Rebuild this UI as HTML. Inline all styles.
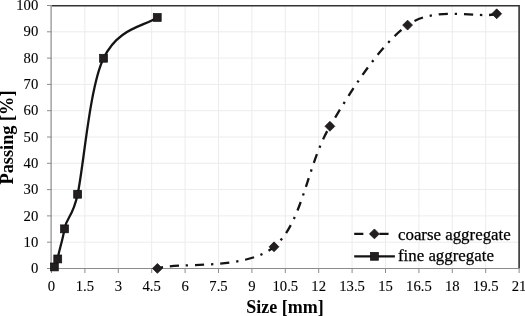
<!DOCTYPE html>
<html><head><meta charset="utf-8"><style>
html,body{margin:0;padding:0;background:#fff;}
body{width:525px;height:316px;overflow:hidden;}
svg{display:block;}
.mk{fill:#231f20;stroke:#101010;stroke-width:0.7px;}
.tl{font-family:"Liberation Serif",serif;font-size:14.7px;fill:#000;stroke:#000;stroke-width:0.1px;}
.ti{font-family:"Liberation Serif",serif;font-size:17.8px;font-weight:bold;fill:#000;}
.lg{font-family:"Liberation Serif",serif;font-size:16.85px;fill:#000;stroke:#000;stroke-width:0.25px;}
</style></head><body>
<svg width="525" height="316" viewBox="0 0 525 316">
<line x1="84.90" y1="5.50" x2="84.90" y2="268.50" stroke="#ececec" stroke-width="1"/>
<line x1="118.30" y1="5.50" x2="118.30" y2="268.50" stroke="#ececec" stroke-width="1"/>
<line x1="151.70" y1="5.50" x2="151.70" y2="268.50" stroke="#ececec" stroke-width="1"/>
<line x1="185.10" y1="5.50" x2="185.10" y2="268.50" stroke="#ececec" stroke-width="1"/>
<line x1="218.50" y1="5.50" x2="218.50" y2="268.50" stroke="#ececec" stroke-width="1"/>
<line x1="251.90" y1="5.50" x2="251.90" y2="268.50" stroke="#ececec" stroke-width="1"/>
<line x1="285.30" y1="5.50" x2="285.30" y2="268.50" stroke="#ececec" stroke-width="1"/>
<line x1="318.70" y1="5.50" x2="318.70" y2="268.50" stroke="#ececec" stroke-width="1"/>
<line x1="352.10" y1="5.50" x2="352.10" y2="268.50" stroke="#ececec" stroke-width="1"/>
<line x1="385.50" y1="5.50" x2="385.50" y2="268.50" stroke="#ececec" stroke-width="1"/>
<line x1="418.91" y1="5.50" x2="418.91" y2="268.50" stroke="#ececec" stroke-width="1"/>
<line x1="452.31" y1="5.50" x2="452.31" y2="268.50" stroke="#ececec" stroke-width="1"/>
<line x1="485.71" y1="5.50" x2="485.71" y2="268.50" stroke="#ececec" stroke-width="1"/>
<line x1="51.50" y1="242.20" x2="519.11" y2="242.20" stroke="#ececec" stroke-width="1"/>
<line x1="51.50" y1="215.90" x2="519.11" y2="215.90" stroke="#ececec" stroke-width="1"/>
<line x1="51.50" y1="189.60" x2="519.11" y2="189.60" stroke="#ececec" stroke-width="1"/>
<line x1="51.50" y1="163.30" x2="519.11" y2="163.30" stroke="#ececec" stroke-width="1"/>
<line x1="51.50" y1="137.00" x2="519.11" y2="137.00" stroke="#ececec" stroke-width="1"/>
<line x1="51.50" y1="110.70" x2="519.11" y2="110.70" stroke="#ececec" stroke-width="1"/>
<line x1="51.50" y1="84.40" x2="519.11" y2="84.40" stroke="#ececec" stroke-width="1"/>
<line x1="51.50" y1="58.10" x2="519.11" y2="58.10" stroke="#ececec" stroke-width="1"/>
<line x1="51.50" y1="31.80" x2="519.11" y2="31.80" stroke="#ececec" stroke-width="1"/>
<polyline points="51.50,5.80 519.11,5.80 519.11,268.50" fill="none" stroke="#333333" stroke-width="1.6"/>
<line x1="51.10" y1="5.00" x2="51.10" y2="269.00" stroke="#8c8c8c" stroke-width="1.2"/>
<line x1="51.00" y1="268.50" x2="519.61" y2="268.50" stroke="#8c8c8c" stroke-width="1"/>
<line x1="47.00" y1="268.50" x2="51.50" y2="268.50" stroke="#8c8c8c" stroke-width="1"/>
<line x1="47.00" y1="242.20" x2="51.50" y2="242.20" stroke="#8c8c8c" stroke-width="1"/>
<line x1="47.00" y1="215.90" x2="51.50" y2="215.90" stroke="#8c8c8c" stroke-width="1"/>
<line x1="47.00" y1="189.60" x2="51.50" y2="189.60" stroke="#8c8c8c" stroke-width="1"/>
<line x1="47.00" y1="163.30" x2="51.50" y2="163.30" stroke="#8c8c8c" stroke-width="1"/>
<line x1="47.00" y1="137.00" x2="51.50" y2="137.00" stroke="#8c8c8c" stroke-width="1"/>
<line x1="47.00" y1="110.70" x2="51.50" y2="110.70" stroke="#8c8c8c" stroke-width="1"/>
<line x1="47.00" y1="84.40" x2="51.50" y2="84.40" stroke="#8c8c8c" stroke-width="1"/>
<line x1="47.00" y1="58.10" x2="51.50" y2="58.10" stroke="#8c8c8c" stroke-width="1"/>
<line x1="47.00" y1="31.80" x2="51.50" y2="31.80" stroke="#8c8c8c" stroke-width="1"/>
<line x1="47.00" y1="5.50" x2="51.50" y2="5.50" stroke="#8c8c8c" stroke-width="1"/>
<line x1="51.50" y1="268.50" x2="51.50" y2="273.00" stroke="#8c8c8c" stroke-width="1"/>
<line x1="84.90" y1="268.50" x2="84.90" y2="273.00" stroke="#8c8c8c" stroke-width="1"/>
<line x1="118.30" y1="268.50" x2="118.30" y2="273.00" stroke="#8c8c8c" stroke-width="1"/>
<line x1="151.70" y1="268.50" x2="151.70" y2="273.00" stroke="#8c8c8c" stroke-width="1"/>
<line x1="185.10" y1="268.50" x2="185.10" y2="273.00" stroke="#8c8c8c" stroke-width="1"/>
<line x1="218.50" y1="268.50" x2="218.50" y2="273.00" stroke="#8c8c8c" stroke-width="1"/>
<line x1="251.90" y1="268.50" x2="251.90" y2="273.00" stroke="#8c8c8c" stroke-width="1"/>
<line x1="285.30" y1="268.50" x2="285.30" y2="273.00" stroke="#8c8c8c" stroke-width="1"/>
<line x1="318.70" y1="268.50" x2="318.70" y2="273.00" stroke="#8c8c8c" stroke-width="1"/>
<line x1="352.10" y1="268.50" x2="352.10" y2="273.00" stroke="#8c8c8c" stroke-width="1"/>
<line x1="385.50" y1="268.50" x2="385.50" y2="273.00" stroke="#8c8c8c" stroke-width="1"/>
<line x1="418.91" y1="268.50" x2="418.91" y2="273.00" stroke="#8c8c8c" stroke-width="1"/>
<line x1="452.31" y1="268.50" x2="452.31" y2="273.00" stroke="#8c8c8c" stroke-width="1"/>
<line x1="485.71" y1="268.50" x2="485.71" y2="273.00" stroke="#8c8c8c" stroke-width="1"/>
<line x1="519.11" y1="268.50" x2="519.11" y2="273.00" stroke="#8c8c8c" stroke-width="1"/>
<text x="38.3" y="273.10" text-anchor="end" class="tl">0</text>
<text x="38.3" y="246.80" text-anchor="end" class="tl">10</text>
<text x="38.3" y="220.50" text-anchor="end" class="tl">20</text>
<text x="38.3" y="194.20" text-anchor="end" class="tl">30</text>
<text x="38.3" y="167.90" text-anchor="end" class="tl">40</text>
<text x="38.3" y="141.60" text-anchor="end" class="tl">50</text>
<text x="38.3" y="115.30" text-anchor="end" class="tl">60</text>
<text x="38.3" y="89.00" text-anchor="end" class="tl">70</text>
<text x="38.3" y="62.70" text-anchor="end" class="tl">80</text>
<text x="38.3" y="36.40" text-anchor="end" class="tl">90</text>
<text x="38.3" y="10.10" text-anchor="end" class="tl">100</text>
<text x="51.50" y="291.4" text-anchor="middle" class="tl">0</text>
<text x="84.90" y="291.4" text-anchor="middle" class="tl">1.5</text>
<text x="118.30" y="291.4" text-anchor="middle" class="tl">3</text>
<text x="151.70" y="291.4" text-anchor="middle" class="tl">4.5</text>
<text x="185.10" y="291.4" text-anchor="middle" class="tl">6</text>
<text x="218.50" y="291.4" text-anchor="middle" class="tl">7.5</text>
<text x="251.90" y="291.4" text-anchor="middle" class="tl">9</text>
<text x="285.30" y="291.4" text-anchor="middle" class="tl">10.5</text>
<text x="318.70" y="291.4" text-anchor="middle" class="tl">12</text>
<text x="352.10" y="291.4" text-anchor="middle" class="tl">13.5</text>
<text x="385.50" y="291.4" text-anchor="middle" class="tl">15</text>
<text x="418.91" y="291.4" text-anchor="middle" class="tl">16.5</text>
<text x="452.31" y="291.4" text-anchor="middle" class="tl">18</text>
<text x="485.71" y="291.4" text-anchor="middle" class="tl">19.5</text>
<text x="519.11" y="291.4" text-anchor="middle" class="tl">21</text>
<text x="284.9" y="312.6" text-anchor="middle" class="ti" style="font-size:18px">Size [mm]</text>
<text transform="translate(12.7,137.5) rotate(-90)" x="0" y="0" text-anchor="middle" class="ti" style="font-size:18.3px">Passing [%]</text>
<path d="M157.40,268.40 C177.42,261.90 244.85,270.98 274.00,246.80 C302.99,222.76 306.72,165.38 329.90,126.30 C352.16,88.77 380.00,44.96 407.60,25.10 C435.87,4.75 480.04,19.13 496.70,13.80" fill="none" stroke="#141414" stroke-width="2.29" stroke-dasharray="9.16,6.87,2.29,6.87" stroke-dashoffset="12.50" stroke-linejoin="round"/>
<path d="M54.35,266.95 C54.92,265.62 57.16,265.49 57.75,258.95 C58.33,252.51 62.81,240.15 64.50,228.85 C66.19,217.55 72.62,217.97 77.65,194.25 C83.81,165.16 89.56,87.22 103.55,58.25 C118.41,27.50 143.25,26.93 157.25,17.45" fill="none" stroke="#141414" stroke-width="2.29" stroke-linejoin="round"/>
<path d="M157.40,263.45 L162.35,268.40 L157.40,273.35 L152.45,268.40 Z" class="mk"/>
<path d="M274.00,241.85 L278.95,246.80 L274.00,251.75 L269.05,246.80 Z" class="mk"/>
<path d="M329.90,121.35 L334.85,126.30 L329.90,131.25 L324.95,126.30 Z" class="mk"/>
<path d="M407.60,20.15 L412.55,25.10 L407.60,30.05 L402.65,25.10 Z" class="mk"/>
<path d="M496.70,8.85 L501.65,13.80 L496.70,18.75 L491.75,13.80 Z" class="mk"/>
<rect x="50.40" y="263.00" width="7.90" height="7.90" class="mk"/>
<rect x="53.80" y="255.00" width="7.90" height="7.90" class="mk"/>
<rect x="60.55" y="224.90" width="7.90" height="7.90" class="mk"/>
<rect x="73.70" y="190.30" width="7.90" height="7.90" class="mk"/>
<rect x="99.60" y="54.30" width="7.90" height="7.90" class="mk"/>
<rect x="153.30" y="13.50" width="7.90" height="7.90" class="mk"/>
<line x1="354.20" y1="233.90" x2="394.90" y2="233.90" stroke="#141414" stroke-width="2.29" stroke-dasharray="9.16,6.87,2.29,6.87"/>
<path d="M374.40,228.95 L379.35,233.90 L374.40,238.85 L369.45,233.90 Z" class="mk"/>
<line x1="354.20" y1="256.30" x2="394.90" y2="256.30" stroke="#141414" stroke-width="2.29"/>
<rect x="370.45" y="252.35" width="7.90" height="7.90" class="mk"/>
<text x="398" y="239.8" class="lg">coarse aggregate</text>
<text x="398" y="260.8" class="lg">fine aggregate</text>
</svg>
</body></html>
